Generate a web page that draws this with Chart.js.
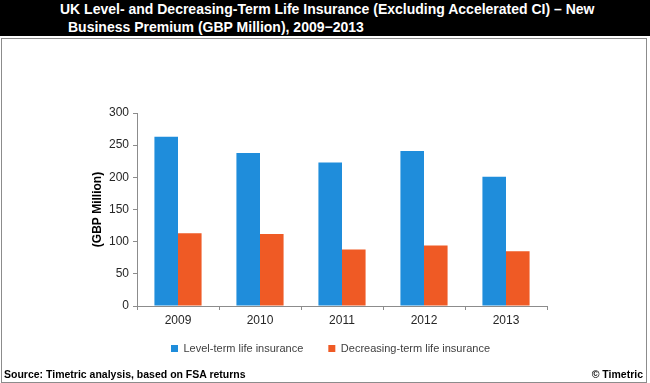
<!DOCTYPE html>
<html>
<head>
<meta charset="utf-8">
<script src="https://cdn.jsdelivr.net/npm/chart.js@4"></script>
<style>
  body { margin: 0; background: #fff; font-family: 'Liberation Sans', Arial, sans-serif; }
  #wrap { position: relative; width: 650px; height: 383px; overflow: hidden; }
  #titleBar { position: absolute; left: 0; top: 0; width: 650px; height: 36px; background: #000; color: #fff;
    font-weight: bold; font-size: 14px; line-height: 17px; }
  #titleBar div { position: absolute; white-space: nowrap; }
  #box { position: absolute; left: 1px; top: 38px; width: 644px; height: 343px; border: 1px solid #8c8c8c; }
  #chart { position: absolute; left: 0; top: 0; }
  .foot { position: absolute; top: 368px; font-weight: bold; font-size: 10.5px; color: #000; white-space: nowrap; }
</style>
</head>
<body>
<div id="wrap">
  <div id="titleBar">
    <div style="left:60px; top:1px;">UK Level- and Decreasing-Term Life Insurance (Excluding Accelerated CI) – New</div>
    <div style="left:68px; top:19px;">Business Premium (GBP Million), 2009−2013</div>
  </div>
  <div id="box"></div>
  <canvas id="chart" width="650" height="383"></canvas>
  <div class="foot" style="left:4px;">Source: Timetric analysis, based on FSA returns</div>
  <div class="foot" style="right:7px;">© Timetric</div>
</div>
<script>
// data
const years = ['2009', '2010', '2011', '2012', '2013'];
const levelTerm = [263, 238, 223, 241, 201];
const decreasingTerm = [113, 112, 88, 94, 85];
const yTicks = [0, 50, 100, 150, 200, 250, 300];

const chartEl = document.getElementById('chart');

// nudge the legend right and up, like the original
const legendShift = {
  id: 'legendShift',
  afterLayout(chart) {
    chart.legend.left += 12;
    chart.legend.right += 12;
    chart.legend.top -= 15;
    chart.legend.bottom -= 15;
  },
};

new Chart(chartEl, {
  type: 'bar',
  data: {
    labels: years,
    datasets: [
      {
        label: 'Level-term life insurance',
        data: levelTerm,
        backgroundColor: '#1f8ddb',
        categoryPercentage: 0.575,
        barPercentage: 1.0,
      },
      {
        label: 'Decreasing-term life insurance',
        data: decreasingTerm,
        backgroundColor: '#ef5a25',
        categoryPercentage: 0.575,
        barPercentage: 1.0,
      },
    ],
  },
  options: {
    responsive: false,
    animation: false,
    layout: {
      padding: { left: 90, right: 103, top: 113, bottom: 4 },
    },
    plugins: {
      tooltip: { enabled: false },
      legend: {
        position: 'bottom',
        labels: {
          boxWidth: 7,
          boxHeight: 7,
          padding: 25,
          color: '#404040',
          font: { family: "'Liberation Sans', Arial", size: 11 },
        },
      },
    },
    scales: {
      x: {
        grid: { drawOnChartArea: false, drawTicks: true, tickLength: 4, color: '#8c8c8c' },
        border: { color: '#8c8c8c' },
        ticks: {
          color: '#262626',
          padding: 3,
          font: { family: "'Liberation Sans', Arial", size: 12 },
        },
        afterFit: (scale) => { scale.height = 27; },
      },
      y: {
        min: 0,
        max: 300,
        afterBuildTicks: (scale) => { scale.ticks = yTicks.map(v => ({ value: v })); },
        grid: { drawOnChartArea: false, drawTicks: true, tickLength: 4, color: '#8c8c8c' },
        border: { color: '#8c8c8c' },
        ticks: {
          color: '#262626',
          padding: 4,
          font: { family: "'Liberation Sans', Arial", size: 12 },
        },
        title: {
          display: true,
          text: '(GBP Million)',
          color: '#000',
          padding: { top: 0, bottom: 0 },
          font: { family: "'Liberation Sans', Arial", size: 12, weight: 'bold' },
        },
        afterFit: (scale) => { scale.width = 47; },
      },
    },
  },
  plugins: [legendShift],
});
</script>
</body>
</html>
